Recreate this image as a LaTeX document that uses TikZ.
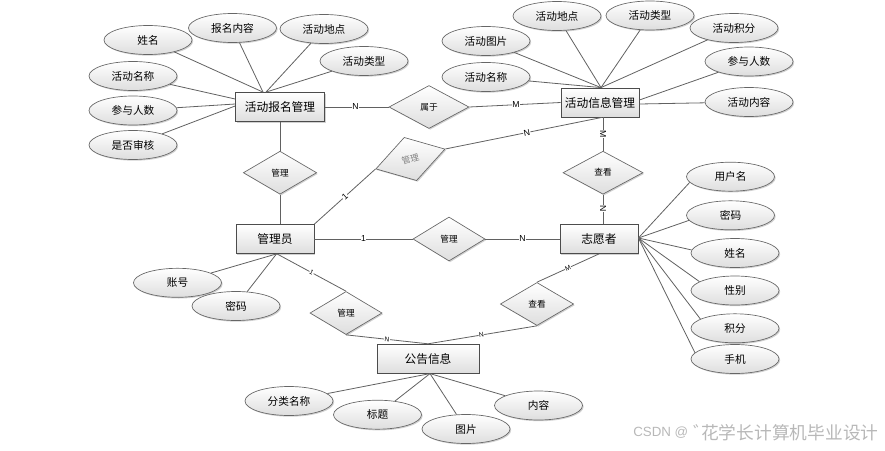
\documentclass[tikz,border=0pt]{standalone}
\usepackage{fontspec}
\setmainfont{Liberation Sans}
\newfontfamily\cjk{Noto Sans CJK SC}
\usetikzlibrary{shapes.geometric,shadows,calc}
\begin{document}
\begin{tikzpicture}[x=0.75pt,y=-0.75pt,
  conn/.style={draw=black!62, line width=0.6pt},
  shad/.style={drop shadow={shadow xshift=0.9pt, shadow yshift=-0.9pt, opacity=0.3, fill=black!60}},
  ent/.style={draw=black!70, line width=0.6pt, rectangle, top color=white, bottom color=black!13, minimum height=21.75pt, inner sep=0pt, font=\cjk\fontsize{8.8}{10}\selectfont, shad},
  attr/.style={draw=black!60, line width=0.5pt, ellipse, top color=white, bottom color=black!13, minimum width=66pt, minimum height=21.75pt, inner sep=0pt, font=\cjk\fontsize{8}{9.5}\selectfont, shad},
  rel/.style={draw=black!60, line width=0.5pt, diamond, top color=white, bottom color=black!13, inner sep=0pt, font=\cjk\fontsize{6.5}{8}\selectfont, shad},
  lab/.style={fill=white, inner sep=0.4pt, font=\fontsize{6.5}{7}\selectfont},
  slab/.style={fill=white, inner sep=0.3pt, font=\fontsize{5}{6}\selectfont}
]
\useasboundingbox (0,0) rectangle (885,450);

% entities
\node[ent, minimum width=66.75pt] (bm) at (280,107) {活动报名管理};
\node[ent, minimum width=58.5pt] (xx) at (600,102.5) {活动信息管理};
\node[ent, minimum width=58.5pt] (gly) at (275,239) {管理员};
\node[ent, minimum width=58.5pt] (zyz) at (599,239) {志愿者};
\node[ent, minimum width=76.5pt] (gg) at (428,358.7) {公告信息};

% relationships
\node[rel, minimum width=60pt, minimum height=32.25pt] (sy) at (429,107) {属于};
\node[rel, minimum width=55pt, minimum height=32.25pt] (d1) at (280,172.7) {管理};
\node[rel, minimum width=54pt, minimum height=33.75pt, rotate=16, text=black!50] (d2) at (410.4,159) {管理};
\node[rel, minimum width=60pt, minimum height=32.25pt] (ck1) at (603,172.7) {查看};
\node[rel, minimum width=54pt, minimum height=33pt] (d3) at (449,239) {管理};
\node[rel, minimum width=54pt, minimum height=32.25pt] (d4) at (346,313) {管理};
\node[rel, minimum width=55pt, minimum height=32.25pt] (ck2) at (537,304) {查看};

% relationship connectors
\draw[conn] (bm.east) -- node[lab,pos=0.48]{N} (sy.west);
\draw[conn] (sy.east) -- node[lab,pos=0.51]{M} (xx.west);
\draw[conn] (bm.south) -- (d1.north);
\draw[conn] (d1.south) -- (d1.south |- gly.north);
\draw[conn] (gly.north east) -- node[lab,sloped,pos=0.5]{1} (d2.west);
\draw[conn] (d2.east) -- node[lab,sloped,pos=0.52]{N} ($(xx.south)+(2,0)$);
\draw[conn] (ck1.north |- xx.south) -- node[lab,sloped,pos=0.49]{M} (ck1.north);
\draw[conn] (ck1.south) -- node[lab,sloped,pos=0.48]{N} (ck1.south |- zyz.north);
\draw[conn] (gly.east) -- node[lab,pos=0.5]{1} (d3.west);
\draw[conn] (d3.east) -- node[lab,pos=0.5]{N} (zyz.west);
\draw[conn] ($(gly.south)+(2,0)$) -- node[slab,sloped,pos=0.5]{1} (d4.north);
\draw[conn] (d4.south) -- node[slab,sloped,pos=0.5]{N} (gg.north);
\draw[conn] (zyz.south) -- node[slab,sloped,pos=0.5]{M} (ck2.north);
\draw[conn] (ck2.south) -- node[slab,sloped,pos=0.51]{N} (gg.north);

% attributes of 活动报名管理
\node[attr] (a1) at (148,40) {姓名};
\node[attr] (a2) at (232.5,28) {报名内容};
\node[attr] (a3) at (324,29) {活动地点};
\node[attr] (a4) at (364,61) {活动类型};
\node[attr] (a5) at (133,76) {活动名称};
\node[attr] (a6) at (133,110.5) {参与人数};
\node[attr] (a7) at (133,145) {是否审核};
\draw[conn] (a1) -- ($(bm.north)+(-17,0)$);
\draw[conn] (a2) -- ($(bm.north)+(-17,0)$);
\draw[conn] (a3) -- ($(bm.north)+(-14,0)$);
\draw[conn] (a4) -- ($(bm.north)+(-14,0)$);
\draw[conn] (a5) -- ($(bm.west)+(0,-8)$);
\draw[conn] (a6) -- ($(bm.west)+(0,-3)$);
\draw[conn] (a7) -- ($(bm.west)+(0,-1)$);

% attributes of 活动信息管理
\node[attr] (b1) at (486,41) {活动图片};
\node[attr] (b2) at (557,16) {活动地点};
\node[attr] (b3) at (650,15.5) {活动类型};
\node[attr] (b4) at (734,28) {活动积分};
\node[attr] (b5) at (486,77) {活动名称};
\node[attr] (b6) at (749,61.5) {参与人数};
\node[attr] (b7) at (749,102) {活动内容};
\draw[conn] (b1) -- ($(xx.north)+(1,0)$);
\draw[conn] (b2) -- ($(xx.north)+(1,0)$);
\draw[conn] (b3) -- ($(xx.north)+(1,0)$);
\draw[conn] (b4) -- ($(xx.north)+(1,0)$);
\draw[conn] (b5) -- ($(xx.north)+(1,0)$);
\draw[conn] (b6) -- ($(xx.east)+(0,-2.5)$);
\draw[conn] (b7) -- ($(xx.east)+(0,1.5)$);

% attributes of 志愿者
\node[attr] (c1) at (730.5,176.7) {用户名};
\node[attr] (c2) at (730.5,215.3) {密码};
\node[attr] (c3) at (735,253) {姓名};
\node[attr] (c4) at (735,290.5) {性别};
\node[attr] (c5) at (735,328.3) {积分};
\node[attr] (c6) at (735,359) {手机};
\draw[conn] ($(zyz.east)+(0,-1)$) -- (c1.188);
\draw[conn] ($(zyz.east)+(0,-1)$) -- (c2.187);
\draw[conn] ($(zyz.east)+(0,-1)$) -- (c3.176);
\draw[conn] ($(zyz.east)+(0,-1)$) -- (c4.166);
\draw[conn] ($(zyz.east)+(0,-1)$) -- (c5.165);
\draw[conn] ($(zyz.east)+(0,-1)$) -- (c6.171);

% attributes of 管理员
\node[attr] (e1) at (177.5,282.8) {账号};
\node[attr] (e2) at (236,306) {密码};
\draw[conn] (e1) -- ($(gly.south)+(1.5,0)$);
\draw[conn] (e2) -- ($(gly.south)+(1.5,0)$);

% attributes of 公告信息
\node[attr] (f1) at (289,401) {分类名称};
\node[attr] (f2) at (377.5,414.7) {标题};
\node[attr] (f3) at (466,429) {图片};
\node[attr] (f4) at (538.5,405.5) {内容};
\draw[conn] (f1) -- ($(gg.south)+(2,0)$);
\draw[conn] (f2) -- ($(gg.south)+(2,0)$);
\draw[conn] (f3) -- ($(gg.south)+(2,0)$);
\draw[conn] (f4) -- ($(gg.south)+(2,0)$);

% watermark
\node[anchor=west, text=black!28, inner sep=0pt, font=\fontsize{10}{12}\selectfont] (wm1) at (633,433) {CSDN @};
\node[anchor=west, text=black!28, inner sep=0pt, font=\cjk\fontsize{13.3}{15}\selectfont] (wm2) at (693,433) {゛\hspace{-0.55em}花学长计算机毕业设计};
\end{tikzpicture}
\end{document}
